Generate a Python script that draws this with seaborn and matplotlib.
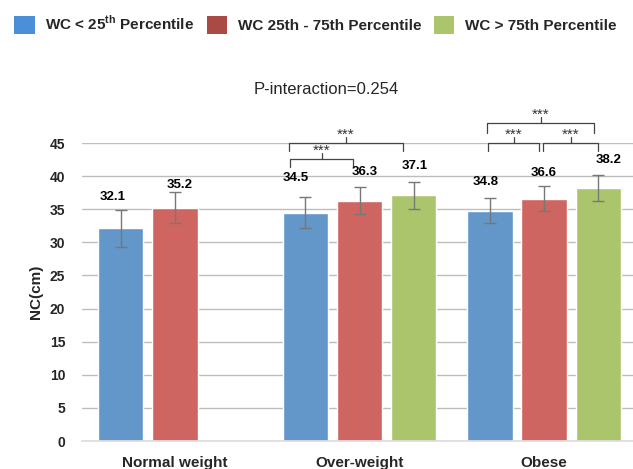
import matplotlib.pyplot as plt
import seaborn as sns
import pandas as pd
import numpy as np
from matplotlib.patches import Patch

sns.set_theme(style="whitegrid")
plt.rcParams['font.family'] = ['Liberation Sans', 'DejaVu Sans']
plt.rcParams['mathtext.fontset'] = 'custom'
plt.rcParams['mathtext.rm'] = 'Liberation Sans'
plt.rcParams['mathtext.bf'] = 'Liberation Sans:bold'

# data
groups = ['Normal weight', 'Over-weight', 'Obese']
wc_levels = ['WC < 25th Percentile', 'WC 25th - 75th Percentile', 'WC > 75th Percentile']
legend_labels = [r'WC < 25$^{\mathbf{th}}$ Percentile',
                 'WC 25th - 75th Percentile',
                 'WC > 75th Percentile']
nc_low = [32.1, 34.5, 34.8]
nc_mid = [35.2, 36.3, 36.6]
nc_high = [np.nan, 37.1, 38.2]
err_low = [2.75, 2.4, 1.95]
err_mid = [2.35, 2.05, 1.85]
err_high = [np.nan, 2.0, 2.0]
# value label placement: height (data units) and sideways shift (category units)
lab_low = [36.9, 39.7, 39.1]
lab_mid = [38.7, 40.6, 40.5]
lab_high = [np.nan, 41.6, 42.5]
shift_low = [-0.046, -0.054, -0.024]
shift_mid = [0.024, 0.030, -0.003]
shift_high = [np.nan, 0.008, 0.054]

# significance brackets: x0, x1, y, drop of the ends
br_x0 = [0.623, 0.618, 1.697, 1.995, 1.691]
br_x1 = [0.965, 1.236, 1.973, 2.293, 2.271]
br_y = [42.6, 45.0, 45.0, 45.0, 48.0]
br_drop = [1.2, 1.2, 1.2, 1.2, 1.5]
br_text = ['***'] * 5

bar_colors = ['#6497C9', '#CF6560', '#ABC56C']
legend_colors = ['#4A8FD8', '#A94A44', '#AAC56B']

rows = []
for lvl, vals, errs, labs, shs in zip(wc_levels, [nc_low, nc_mid, nc_high],
                                       [err_low, err_mid, err_high],
                                       [lab_low, lab_mid, lab_high],
                                       [shift_low, shift_mid, shift_high]):
    for g, v, e, l, s in zip(groups, vals, errs, labs, shs):
        rows.append({'group': g, 'WC': lvl, 'NC': v, 'err': e,
                     'lab': l, 'shift': s})
df = pd.DataFrame(rows).dropna()

fig = plt.figure(figsize=(6.33, 4.69), dpi=100)
ax = fig.add_axes([82/633, 28/469, 551/633, 298/469])

sns.barplot(data=df, x='group', y='NC', hue='WC', order=groups,
            hue_order=wc_levels, palette=bar_colors, saturation=1,
            width=0.88, gap=0.164, errorbar=None, legend=False, ax=ax)

for cont, lvl in zip(ax.containers, wc_levels):
    sub = df[df['WC'] == lvl].set_index('group')
    for bar in cont:
        xc = bar.get_x() + bar.get_width() / 2
        row = sub.loc[groups[int(round(xc))]]
        ax.errorbar(xc, row['NC'], yerr=row['err'], color='#777777',
                    lw=1, capsize=4, capthick=1, zorder=4)
        ax.text(xc + row['shift'], row['lab'], f"{row['NC']:.1f}",
                ha='center', va='center', fontsize=9.5, fontweight='bold',
                color='black')

for x0, x1, y, d, t in zip(br_x0, br_x1, br_y, br_drop, br_text):
    xm = (x0 + x1) / 2
    ax.plot([x0, x0, x1, x1], [y - d, y, y, y - d], color='#444444',
            lw=0.9, clip_on=False)
    ax.plot([xm, xm], [y, y + 0.9], color='#444444', lw=0.9, clip_on=False)
    ax.text(xm, y + 0.6, t, ha='center', va='baseline', fontsize=11,
            color='#333333')

ax.set_xlim(-0.504, 2.482)
ax.set_ylim(0, 45)
ax.set_yticks(range(0, 46, 5))
ax.grid(axis='y', color='#BDBDBD', lw=1)
ax.grid(axis='x', visible=False)
for s in ['left', 'right', 'top']:
    ax.spines[s].set_visible(False)
ax.spines['bottom'].set_color('#DDDDDD')
ax.tick_params(axis='both', length=0)
ax.tick_params(axis='y', pad=12, labelsize=10)
ax.tick_params(axis='x', pad=11, labelsize=11)
for lbl in ax.get_xticklabels() + ax.get_yticklabels():
    lbl.set_fontweight('bold')
ax.set_xlabel(None)
ax.set_ylabel('NC(cm)', fontsize=11, fontweight='bold', labelpad=5)

fig.text(326/633, 1 - 90/469, 'P-interaction=0.254', ha='center',
         va='center', fontsize=12)

handles = [Patch(facecolor=c, edgecolor='none') for c in legend_colors]
fig.legend(handles=handles, labels=legend_labels, loc='center left',
           bbox_to_anchor=(14/633, 1 - 24/469), ncol=3, frameon=False,
           prop={'weight': 'bold', 'size': 11}, handlelength=1.35,
           handleheight=1.35, handletextpad=0.7, columnspacing=0.8,
           borderpad=0, borderaxespad=0)

fig.savefig('out.png', dpi=100)
